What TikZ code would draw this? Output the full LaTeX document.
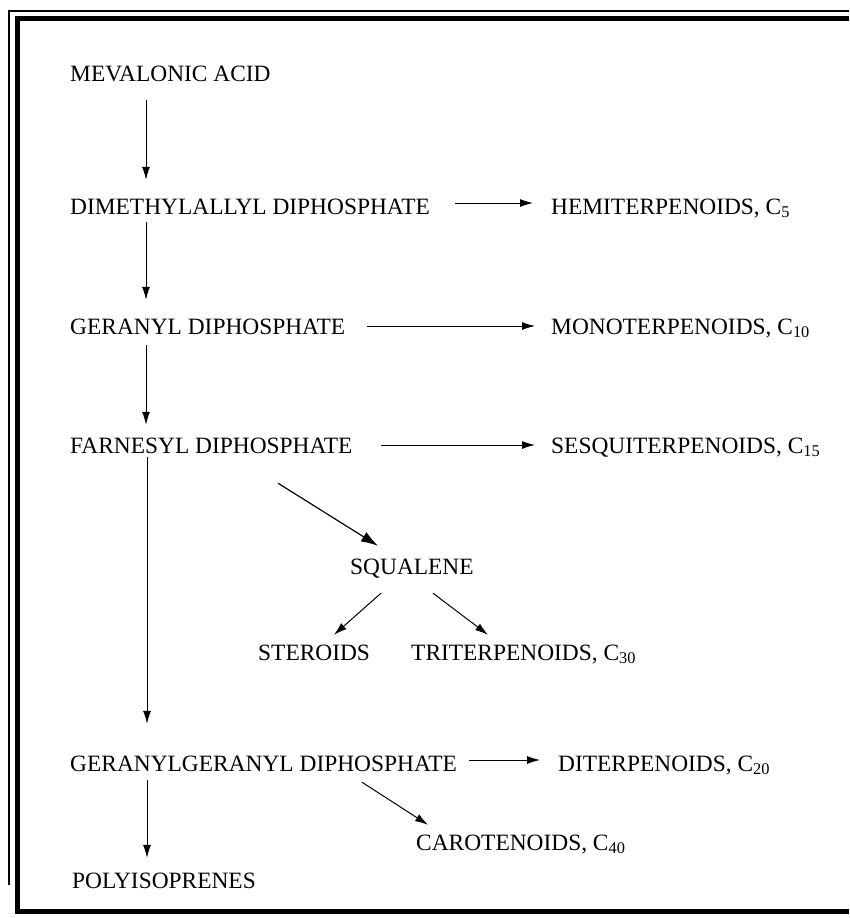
\documentclass[tikz,border=0pt]{standalone}
\usepackage{fontspec}
\setmainfont{Liberation Serif}
\usetikzlibrary{arrows.meta}

\tikzset{
  lbl/.style={anchor=base west, inner sep=0pt, text height=16pt, text depth=0pt,
              font=\fontsize{23.4}{28}\selectfont},
  arr/.style={-{Latex[length=13pt,width=8pt]}, line width=1pt},
  bigarr/.style={-{Latex[length=17pt,width=11pt]}, line width=1.2pt}
}

\begin{document}
\begin{tikzpicture}[x=1pt,y=-1pt]
\useasboundingbox (0,0) rectangle (849,918);
% frame
\draw [line width=1.2pt] (849,11) -- (9,11) -- (9,885);
\draw [line width=5pt] (849,18) -- (17,18) -- (17,911) -- (849,911);
% main chain
\node [lbl] (mev) at (70,81) {MEVALONIC ACID};
\node [lbl] (dma) at (70,214) {DIMETHYLALLYL DIPHOSPHATE};
\node [lbl] (ger) at (70,334) {GERANYL DIPHOSPHATE};
\node [lbl] (far) at (70,453) {FARNESYL DIPHOSPHATE};
\node [lbl] (gg) at (70,771) {GERANYLGERANYL DIPHOSPHATE};
\node [lbl] (poly) at (72,888) {POLYISOPRENES};
% products
\node [lbl] (hemi) at (551,214) {HEMITERPENOIDS, C\textsubscript{5}};
\node [lbl] (mono) at (551,334) {MONOTERPENOIDS, C\textsubscript{10}};
\node [lbl] (sesq) at (551,453) {SESQUITERPENOIDS, C\textsubscript{15}};
\node [lbl] (squ) at (350,574) {SQUALENE};
\node [lbl] (ster) at (258,660) {STEROIDS};
\node [lbl] (tri) at (411,660) {TRITERPENOIDS, C\textsubscript{30}};
\node [lbl] (dit) at (558,771) {DITERPENOIDS, C\textsubscript{20}};
\node [lbl] (car) at (416,850) {CAROTENOIDS, C\textsubscript{40}};
% down the chain
\draw [arr,shorten <=19pt,shorten >=18pt] ([xshift=76pt]mev.south west) -- ([xshift=76pt]dma.north west);
\draw [arr,shorten <=8pt,shorten >=18pt] ([xshift=76pt]dma.south west) -- ([xshift=76pt]ger.north west);
\draw [arr,shorten <=11pt,shorten >=12pt] ([xshift=76pt]ger.south west) -- ([xshift=76pt]far.north west);
\draw [arr,shorten <=4pt,shorten >=31pt] ([xshift=77pt]far.south west) -- ([xshift=77pt]gg.north west);
\draw [arr,shorten <=9pt,shorten >=14pt] ([xshift=77pt]gg.south west) -- ([xshift=75pt]poly.north west);
% side branches
\draw [arr,shorten <=25pt,shorten >=18pt] ([yshift=3pt]dma.east) -- ([yshift=3pt]hemi.west);
\draw [arr,shorten <=22pt,shorten >=16pt] (ger.east) -- (mono.west);
\draw [arr,shorten <=28pt,shorten >=16pt] (far.east) -- (sesq.west);
\draw [arr,shorten <=12pt,shorten >=18pt] ([yshift=3pt]gg.east) -- ([yshift=3pt]dit.west);
\draw [bigarr] ([xshift=208pt,yshift=-30pt]far.south west) -- ([xshift=28pt,yshift=12pt]squ.north west);
\draw [arr] ([xshift=31pt,yshift=-19pt]squ.south west) -- ([xshift=76pt,yshift=9pt]ster.north west);
\draw [arr] ([xshift=83pt,yshift=-19pt]squ.south west) -- ([xshift=77pt,yshift=9pt]tri.north west);
\draw [arr] ([xshift=292pt,yshift=-11pt]gg.south west) -- ([xshift=12pt,yshift=9pt]car.north west);
\end{tikzpicture}
\end{document}
